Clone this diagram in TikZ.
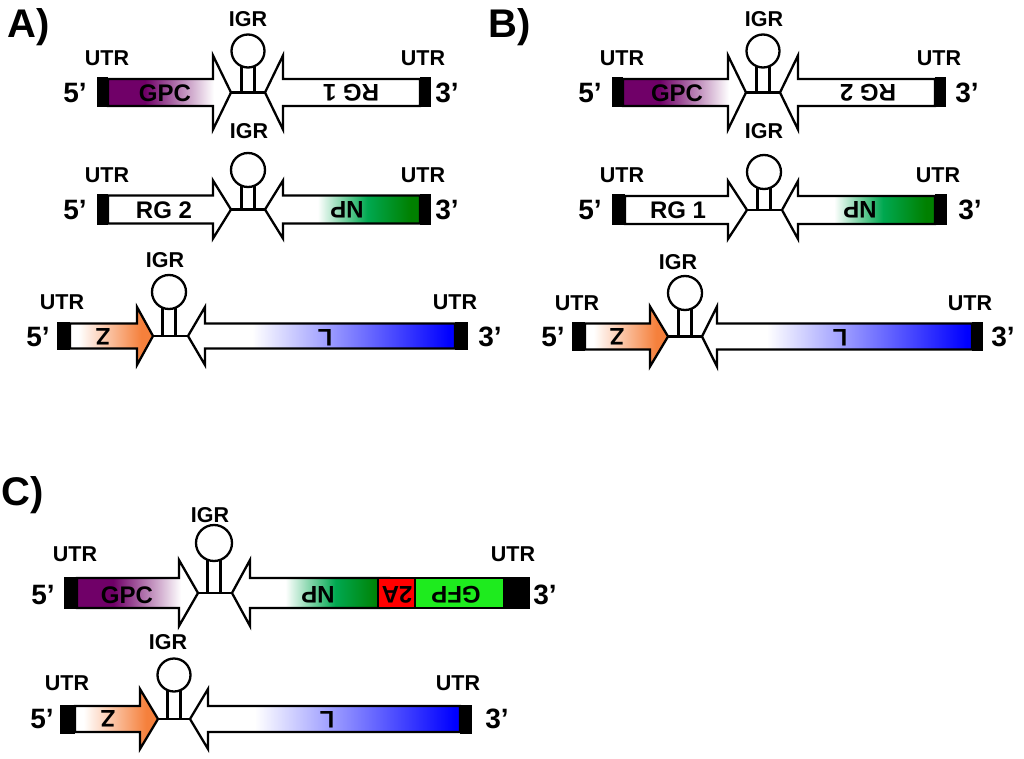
\documentclass[tikz,border=0pt]{standalone}
\usepackage{fontspec}
\setmainfont{Liberation Sans}
\definecolor{gpcp}{RGB}{112,0,104}
\definecolor{npg}{RGB}{0,128,0}
\definecolor{npm}{RGB}{0,168,80}
\definecolor{zor}{RGB}{245,128,60}
\definecolor{lblue}{RGB}{0,0,255}
\definecolor{gfpg}{RGB}{30,235,30}
\definecolor{tared}{RGB}{255,0,0}
\pgfdeclarehorizontalshading{gpcsh}{100bp}{color(0bp)=(gpcp); color(40bp)=(gpcp); color(68bp)=(white); color(100bp)=(white)}
\pgfdeclarehorizontalshading{npsh}{100bp}{color(0bp)=(white); color(42bp)=(white); color(58bp)=(npm); color(72bp)=(npg); color(100bp)=(npg)}
\pgfdeclarehorizontalshading{zsh}{100bp}{color(0bp)=(white); color(30bp)=(white); color(68bp)=(zor); color(100bp)=(zor)}
\pgfdeclarehorizontalshading{lsh}{100bp}{color(0bp)=(white); color(37bp)=(white); color(74bp)=(lblue); color(100bp)=(lblue)}
% forward arrow: style, x1, xhead, xtip, yc, body half, head half
\newcommand{\fwdarr}[7]{\path[#1] (#2,#5-#6) -- (#3,#5-#6) -- (#3,#5-#7) -- (#4,#5) -- (#3,#5+#7) -- (#3,#5+#6) -- (#2,#5+#6) -- cycle;}
% reverse arrow: style, xtip, xhead, xend, yc, body half, head half
\newcommand{\revarr}[7]{\path[#1] (#2,#5) -- (#3,#5-#7) -- (#3,#5-#6) -- (#4,#5-#6) -- (#4,#5+#6) -- (#3,#5+#6) -- (#3,#5+#7) -- cycle;}
% utr block: x0, x1, yc, half
\newcommand{\utrbox}[4]{\fill (#1,#3-#4) rectangle (#2,#3+#4);}
% hairpin: xt1, xt2, yc, cx, cy, r
\newcommand{\hpin}[6]{%
 \draw[ol] (#1,#3) -- (#2,#3);
 \draw[ol] (#4-6.5,#3) -- (#4-6.5,#5) (#4+6.5,#3) -- (#4+6.5,#5);
 \draw[ol,fill=white] (#4,#5) circle[radius=#6];}
\begin{document}
\begin{tikzpicture}[x=1pt,y=-1pt,
  ol/.style={draw=black,line width=2.3pt,line join=miter},
  panel/.style={font=\fontsize{40}{40}\selectfont\bfseries,inner sep=0pt},
  endlbl/.style={font=\fontsize{28}{28}\selectfont\bfseries,inner sep=0pt},
  small/.style={font=\fontsize{21.5}{21.5}\selectfont\bfseries,inner sep=0pt},
  gene/.style={font=\fontsize{24}{24}\selectfont\bfseries,inner sep=0pt},
  rgene/.style={gene,rotate=180}]
\useasboundingbox (0,0) rectangle (1024,759);
% ---------------- Panel A ----------------
\node[panel] (pA) at (29,27) {A)};
% row A1
\fwdarr{ol,shade,shading=gpcsh}{108}{213}{231}{92.5}{13.5}{37}
\revarr{ol,fill=white}{265}{283}{420}{92.5}{13.5}{37}
\utrbox{97}{108}{92.5}{15}
\utrbox{420}{431}{92.5}{15}
\hpin{231}{265}{92.5}{248}{51}{16.5}
\node[small] (a1igr) at (248,19) {IGR};
\node[small] (a1ul) at (107,58) {UTR};
\node[small] (a1ur) at (423,58) {UTR};
\node[endlbl] (a1f) at (75,93) {5’};
\node[endlbl] (a1t) at (447,93) {3’};
\node[gene] (a1g1) at (165,93) {GPC};
\node[rgene] (a1g2) at (351,93) {RG 1};
% row A2
\fwdarr{ol,fill=white}{108}{213}{231}{209.5}{14}{29}
\revarr{ol,shade,shading=npsh}{265}{283}{420}{209.5}{14}{29}
\utrbox{97}{108}{209.5}{15.5}
\utrbox{420}{431}{209.5}{15.5}
\hpin{231}{265}{209.5}{248}{170}{17}
\node[small] (a2igr) at (249,131) {IGR};
\node[small] (a2ul) at (107,175) {UTR};
\node[small] (a2ur) at (423,175) {UTR};
\node[endlbl] (a2f) at (75,210) {5’};
\node[endlbl] (a2t) at (447,210) {3’};
\node[gene] (a2g1) at (164,210) {RG 2};
\node[rgene] (a2g2) at (347,210) {NP};
% row A3
\fwdarr{ol,shade,shading=zsh}{70}{137}{153}{336}{12.5}{29}
\revarr{ol,shade,shading=lsh}{188}{205}{455}{336}{12.5}{29}
\utrbox{57}{70}{336}{14}
\utrbox{455}{468}{336}{14}
\hpin{153}{188}{336}{169}{292}{17}
\node[small] (a3igr) at (165,260) {IGR};
\node[small] (a3ul) at (62,302) {UTR};
\node[small] (a3ur) at (455,302) {UTR};
\node[endlbl] (a3f) at (38,337) {5’};
\node[endlbl] (a3t) at (490,337) {3’};
\node[rgene] (a3g1) at (103,337) {Z};
\node[rgene] (a3g2) at (325,338) {L};
% ---------------- Panel B ----------------
\node[panel] (pB) at (510,27) {B)};
% row B1
\fwdarr{ol,shade,shading=gpcsh}{623}{728}{746}{92.5}{13.5}{37}
\revarr{ol,fill=white}{780}{798}{935}{92.5}{13.5}{37}
\utrbox{612}{623}{92.5}{15}
\utrbox{935}{946}{92.5}{15}
\hpin{746}{780}{92.5}{763}{51}{16.5}
\node[small] (b1igr) at (764,19) {IGR};
\node[small] (b1ul) at (622,58) {UTR};
\node[small] (b1ur) at (939,58) {UTR};
\node[endlbl] (b1f) at (590,93) {5’};
\node[endlbl] (b1t) at (967,93) {3’};
\node[gene] (b1g1) at (677,93) {GPC};
\node[rgene] (b1g2) at (868,93) {RG 2};
% row B2
\fwdarr{ol,fill=white}{625}{728}{747}{210}{14}{29}
\revarr{ol,shade,shading=npsh}{782}{798}{935}{210}{14}{29}
\utrbox{612}{625}{210}{15.5}
\utrbox{935}{947}{210}{15.5}
\hpin{747}{782}{210}{764}{172}{17}
\node[small] (b2igr) at (764,131) {IGR};
\node[small] (b2ul) at (622,175) {UTR};
\node[small] (b2ur) at (938,175) {UTR};
\node[endlbl] (b2f) at (590,210) {5’};
\node[endlbl] (b2t) at (970,210) {3’};
\node[gene] (b2g1) at (678,210) {RG 1};
\node[rgene] (b2g2) at (860,210) {NP};
% row B3
\fwdarr{ol,shade,shading=zsh}{585}{650}{668}{336.5}{13}{30}
\revarr{ol,shade,shading=lsh}{702}{717}{972}{336.5}{13}{30}
\utrbox{572}{585}{336.5}{14.5}
\utrbox{972}{983}{336.5}{14.5}
\hpin{668}{702}{336.5}{685}{293}{17}
\node[small] (b3igr) at (678,262) {IGR};
\node[small] (b3ul) at (577,303) {UTR};
\node[small] (b3ur) at (970,303) {UTR};
\node[endlbl] (b3f) at (553,337) {5’};
\node[endlbl] (b3t) at (1003,337) {3’};
\node[rgene] (b3g1) at (617,337) {Z};
\node[rgene] (b3g2) at (840,338) {L};
% ---------------- Panel C ----------------
\node[panel] (pC) at (23,495) {C)};
% row C1
\fwdarr{ol,shade,shading=gpcsh}{77}{179}{198}{593}{15}{33}
\revarr{ol,shade,shading=npsh}{232}{250}{389}{593}{15}{33}
\draw[ol,fill=tared] (378,578) rectangle (415,608);
\draw[ol,fill=gfpg] (415,578) rectangle (504,608);
\draw[ol,fill=black] (504,578) rectangle (529,608);
\utrbox{64}{77}{593}{16}
\hpin{198}{232}{593}{214}{543}{18}
\node[small] (c1igr) at (210,515) {IGR};
\node[small] (c1ul) at (75,554) {UTR};
\node[small] (c1ur) at (513,554) {UTR};
\node[endlbl] (c1f) at (43,595) {5’};
\node[endlbl] (c1t) at (545,595) {3’};
\node[gene] (c1g1) at (127,595) {GPC};
\node[rgene] (c1g2) at (318,595) {NP};
\node[rgene] (c1g3) at (397,595) {2A};
\node[rgene] (c1g4) at (456,595) {GFP};
% row C2
\fwdarr{ol,shade,shading=zsh}{75}{140}{158}{719}{13}{30}
\revarr{ol,shade,shading=lsh}{190}{208}{460}{719}{13}{30}
\utrbox{60}{75}{719}{14.5}
\utrbox{460}{472}{719}{14.5}
\hpin{158}{190}{719}{174}{675}{16.5}
\node[small] (c2igr) at (168,642) {IGR};
\node[small] (c2ul) at (67,683) {UTR};
\node[small] (c2ur) at (458,683) {UTR};
\node[endlbl] (c2f) at (42,719) {5’};
\node[endlbl] (c2t) at (497,719) {3’};
\node[rgene] (c2g1) at (108,719) {Z};
\node[rgene] (c2g2) at (327,720) {L};
\end{tikzpicture}
\end{document}
